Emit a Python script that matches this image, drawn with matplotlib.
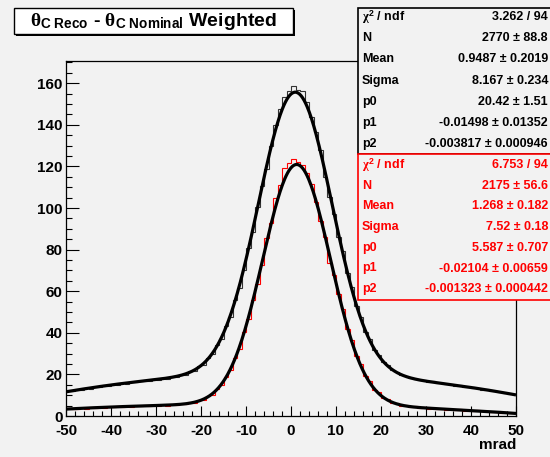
import numpy as np
import matplotlib
matplotlib.use("Agg")
import matplotlib.pyplot as plt
from matplotlib.patches import Rectangle
from matplotlib.ticker import MultipleLocator

plt.rcParams['font.family'] = ['Liberation Sans', 'DejaVu Sans']
plt.rcParams['font.weight'] = 'bold'
plt.rcParams['axes.unicode_minus'] = False
plt.rcParams['mathtext.fontset'] = 'custom'
plt.rcParams['mathtext.rm'] = 'Liberation Sans:bold'
plt.rcParams['mathtext.bf'] = 'Liberation Sans:bold'
plt.rcParams['mathtext.it'] = 'Liberation Serif'

# histogram binning: 100 bins, -50..50 mrad
bin_edges = np.linspace(-50, 50, 101)

# black histogram (all candidates)
h_black = [12.3, 11.9, 12.8, 12.6, 13.6, 13.2, 14.1, 14.0, 14.9, 14.6,
           15.4, 15.0, 15.9, 15.6, 16.5, 16.2, 16.9, 17.3, 16.9, 17.7,
           17.5, 18.4, 17.9, 18.9, 18.7, 19.9, 19.8, 21.4, 21.8, 23.9,
           24.7, 27.9, 29.6, 34.1, 36.9, 43.2, 47.5, 55.8, 61.6, 70.2,
           80.9, 88.7, 100.6, 110.4, 118.6, 129.9, 140.0, 147.6, 153.5, 156.4,
           158.5, 156.6, 156.2, 151.0, 143.9, 136.5, 127.9, 114.8, 105.2, 97.2,
           86.0, 79.1, 68.6, 61.8, 52.9, 47.6, 40.6, 36.9, 31.7, 29.5,
           25.8, 24.4, 22.0, 21.3, 19.6, 19.3, 18.1, 18.0, 17.1, 17.2,
           16.3, 16.6, 15.8, 15.9, 15.2, 15.3, 14.6, 14.7, 14.0, 14.1,
           13.3, 13.4, 12.7, 12.8, 12.0, 12.0, 11.3, 11.2, 10.6, 10.5]

# red histogram
h_red = [3.8, 3.3, 3.5, 3.9, 3.6, 4.1, 3.8, 4.3, 4.0, 4.5,
         4.2, 4.6, 4.3, 4.8, 4.5, 4.9, 4.6, 5.1, 4.8, 5.2,
         4.9, 5.4, 5.0, 5.6, 5.3, 5.9, 5.7, 6.5, 6.4, 7.5,
         7.8, 9.6, 10.3, 13.2, 14.8, 18.9, 22.0, 28.1, 32.4, 40.3,
         46.5, 56.0, 63.5, 72.6, 85.6, 92.8, 104.8, 111.0, 119.2, 121.6,
         123.4, 122.3, 120.7, 116.8, 111.5, 102.8, 94.0, 86.2, 73.5, 67.8,
         58.6, 51.5, 41.9, 36.4, 28.8, 24.8, 19.1, 16.6, 12.6, 11.3,
         8.6, 8.0, 6.3, 6.1, 5.0, 5.1, 4.3, 4.6, 3.9, 4.2,
         3.6, 3.9, 3.3, 3.6, 3.1, 3.4, 2.8, 3.2, 2.6, 2.9,
         2.4, 2.7, 2.2, 2.5, 1.9, 2.1, 1.6, 1.8, 1.3, 1.5]

# fit results from the stat boxes: N, Mean, Sigma, p0, p1, p2
fit_black = [2770, 0.9487, 8.167, 20.42, -0.01498, -0.003817]
fit_red = [2175, 1.268, 7.52, 5.587, -0.02104, -0.001323]

stat_names = ['$\\chi^{2}$ / ndf', 'N', 'Mean', 'Sigma', 'p0', 'p1', 'p2']
stat_black = ['3.262 / 94', '2770 ± 88.8', '0.9487 ± 0.2019', '8.167 ± 0.234',
              '20.42 ± 1.51', '-0.01498 ± 0.01352', '-0.003817 ± 0.000946']
stat_red = ['6.753 / 94', '2175 ± 56.6', '1.268 ± 0.182', '7.52 ± 0.18',
            '5.587 ± 0.707', '-0.02104 ± 0.00659', '-0.001323 ± 0.000442']

bg = '#f2f2f2'
W, H = 550, 457


def fx(px):
    return px / W


def fy(py):
    return 1 - py / H


def gaus_pol2(x, p, width=1.0):
    n, mu, sig, a0, a1, a2 = p
    g = n * width / (np.sqrt(2 * np.pi) * sig) * np.exp(-0.5 * ((x - mu) / sig) ** 2)
    return g + a0 + a1 * x + a2 * x ** 2


fig = plt.figure(figsize=(5.5, 4.57), dpi=100, facecolor=bg)
ax = fig.add_axes([fx(66), fy(416), fx(516) - fx(66), fy(61) - fy(416)])
ax.set_facecolor(bg)

ax.stairs(h_black, bin_edges, color='#333333', lw=0.8, baseline=None)
ax.stairs(h_red, bin_edges, color='red', lw=0.8, baseline=None)

xx = np.linspace(-50, 50, 600)
ax.plot(xx, gaus_pol2(xx, fit_black), color='black', lw=2.3, solid_capstyle='butt')
ax.plot(xx, gaus_pol2(xx, fit_red), color='black', lw=2.3, solid_capstyle='butt')

ax.set_xlim(-50, 50)
ax.set_ylim(0, 170.7)
ax.xaxis.set_major_locator(MultipleLocator(10))
ax.xaxis.set_minor_locator(MultipleLocator(2))
ax.yaxis.set_major_locator(MultipleLocator(20))
ax.yaxis.set_minor_locator(MultipleLocator(5))
ax.tick_params(axis='both', which='both', direction='in', top=False, right=False,
               labelsize=11, width=0.8)
ax.tick_params(axis='x', which='major', length=7, pad=6)
ax.tick_params(axis='x', which='minor', length=3.6)
ax.tick_params(axis='y', which='major', length=9, pad=2.5)
ax.tick_params(axis='y', which='minor', length=4.5)
for lab in ax.get_xticklabels() + ax.get_yticklabels():
    lab.set_fontweight('bold')
for s in ax.spines.values():
    s.set_linewidth(0.9)

fig.text(fx(516), fy(445), 'mrad', ha='right', va='center', fontsize=11,
         fontweight='bold')

# title pave with shadow
fig.patches.append(Rectangle((fx(16), fy(36)), fx(293) - fx(14), fy(8) - fy(34),
                             transform=fig.transFigure, facecolor='black',
                             edgecolor='none', zorder=5))
fig.patches.append(Rectangle((fx(14), fy(34)), fx(293) - fx(14), fy(8) - fy(34),
                             transform=fig.transFigure, facecolor='white',
                             edgecolor='black', lw=1.0, zorder=6))
fig.text(fx(153.5), fy(22), r'$\theta_{\mathbf{C\ Reco}}$ - $\theta_{\mathbf{C\ Nominal}}$ Weighted',
         ha='center', va='center', fontsize=14, fontweight='bold', zorder=7)

# stat boxes
fig.patches.append(Rectangle((fx(358), fy(154)), fx(600) - fx(358), fy(8) - fy(154),
                             transform=fig.transFigure, facecolor=bg,
                             edgecolor='black', lw=1.2, zorder=5))
fig.patches.append(Rectangle((fx(358), fy(300)), fx(600) - fx(358), fy(154) - fy(300),
                             transform=fig.transFigure, facecolor=bg,
                             edgecolor='red', lw=1.2, zorder=6))

for i, (name, val) in enumerate(zip(stat_names, stat_black)):
    y = 17 + 21.2 * i
    fig.text(fx(362), fy(y), name, ha='left', va='center', fontsize=9,
             fontweight='bold', color='black', zorder=8)
    fig.text(fx(548), fy(y), val, ha='right', va='center', fontsize=9,
             fontweight='bold', color='black', zorder=8)

for i, (name, val) in enumerate(zip(stat_names, stat_red)):
    y = 165 + 20.7 * i
    fig.text(fx(362), fy(y), name, ha='left', va='center', fontsize=9,
             fontweight='bold', color='red', zorder=8)
    fig.text(fx(548), fy(y), val, ha='right', va='center', fontsize=9,
             fontweight='bold', color='red', zorder=8)

fig.savefig('out.png', dpi=100, facecolor=bg)
